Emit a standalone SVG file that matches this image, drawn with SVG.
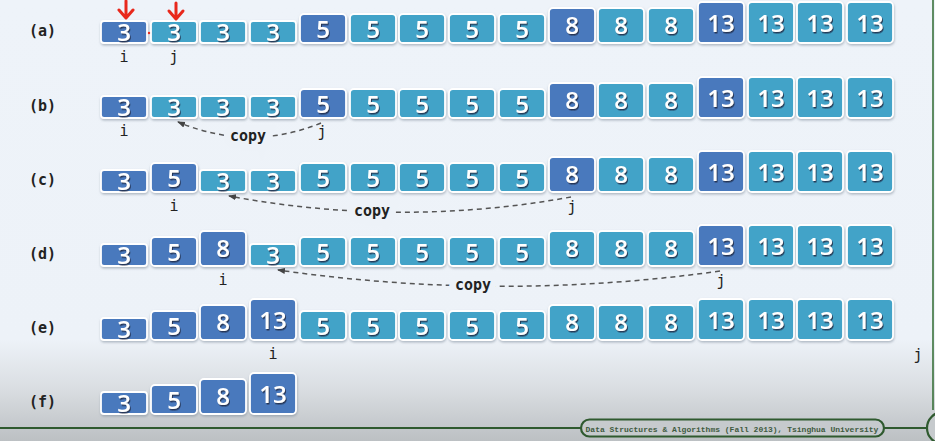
<svg xmlns="http://www.w3.org/2000/svg" width="935" height="441" viewBox="0 0 935 441">
<defs>
<linearGradient id="bg" x1="0" y1="0" x2="0" y2="1">
<stop offset="0" stop-color="#eef3f9"/>
<stop offset="0.77" stop-color="#edf2f8"/>
<stop offset="0.88" stop-color="#dadee2"/>
<stop offset="1" stop-color="#bcc0c3"/>
</linearGradient>
<filter id="sh" x="-10%" y="-10%" width="130%" height="140%">
<feDropShadow dx="0.5" dy="1.5" stdDeviation="1" flood-color="#7a8796" flood-opacity="0.55"/>
</filter>
<filter id="ts" x="-20%" y="-20%" width="150%" height="150%">
<feDropShadow dx="1" dy="1.5" stdDeviation="0.5" flood-color="#1b2b44" flood-opacity="0.85"/>
</filter>
<marker id="ah" markerWidth="9" markerHeight="7" refX="7" refY="3" orient="auto" markerUnits="userSpaceOnUse">
<path d="M0,0 L8,3 L0,6 z" fill="#444"/>
</marker>
</defs>
<style>
rect.d{fill:#4a79bd;stroke:#fff;stroke-width:1.8;filter:url(#sh)}
rect.l{fill:#42a3c8;stroke:#fff;stroke-width:1.8;filter:url(#sh)}
text.n{font-family:"Open Sans","DejaVu Sans",sans-serif;font-weight:600;font-size:24px;fill:#fff;text-anchor:middle;filter:url(#ts)}
text.lab{font-family:"DejaVu Sans Mono","Liberation Mono",monospace;font-weight:bold;font-size:15px;fill:#222}
text.idx{font-family:"DejaVu Sans Mono","Liberation Mono",monospace;font-size:15px;fill:#222;text-anchor:middle}
text.cp{font-family:"DejaVu Sans Mono","Liberation Mono",monospace;font-weight:bold;font-size:15px;fill:#222;text-anchor:middle;stroke:#edf2f8;stroke-width:14;paint-order:stroke}
path.cl{fill:none;stroke:#555;stroke-width:1.5;stroke-dasharray:5 4;marker-end:url(#ah)}
.red{fill:none;stroke:#e8281c;stroke-width:3;stroke-linecap:round;stroke-linejoin:round}
</style>
<rect x="0" y="0" width="935" height="441" fill="url(#bg)"/>

<g id="labels">
<text class="lab" x="29" y="36">(a)</text>
<text class="lab" x="29" y="111">(b)</text>
<text class="lab" x="29" y="185">(c)</text>
<text class="lab" x="29" y="259">(d)</text>
<text class="lab" x="29" y="333">(e)</text>
<text class="lab" x="29" y="407">(f)</text>
</g>

<!-- row a -->
<g id="row-a">
<g id="a0"><rect class="d" x="101" y="21" width="46" height="22" rx="3"/><text class="n" x="124" y="41">3</text></g>
<g id="a1"><rect class="l" x="151" y="21" width="46" height="22" rx="3"/><text class="n" x="174" y="41">3</text></g>
<g id="a2"><rect class="l" x="200" y="21" width="46" height="22" rx="3"/><text class="n" x="223" y="41">3</text></g>
<g id="a3"><rect class="l" x="250" y="21" width="46" height="22" rx="3"/><text class="n" x="273" y="41">3</text></g>
<g id="a4"><rect class="d" x="300" y="14" width="46" height="29" rx="4"/><text class="n" x="323" y="38">5</text></g>
<g id="a5"><rect class="l" x="350" y="14" width="46" height="29" rx="4"/><text class="n" x="373" y="38">5</text></g>
<g id="a6"><rect class="l" x="399" y="14" width="46" height="29" rx="4"/><text class="n" x="422" y="38">5</text></g>
<g id="a7"><rect class="l" x="449" y="14" width="46" height="29" rx="4"/><text class="n" x="472" y="38">5</text></g>
<g id="a8"><rect class="l" x="499" y="14" width="46" height="29" rx="4"/><text class="n" x="522" y="38">5</text></g>
<g id="a9"><rect class="d" x="549" y="8" width="46" height="35" rx="4"/><text class="n" x="572" y="34">8</text></g>
<g id="a10"><rect class="l" x="598" y="8" width="46" height="35" rx="4"/><text class="n" x="621" y="34">8</text></g>
<g id="a11"><rect class="l" x="648" y="8" width="46" height="35" rx="4"/><text class="n" x="671" y="34">8</text></g>
<g id="a12"><rect class="d" x="698" y="2" width="46" height="41" rx="4"/><text class="n" x="721" y="32">13</text></g>
<g id="a13"><rect class="l" x="748" y="2" width="46" height="41" rx="4"/><text class="n" x="771" y="32">13</text></g>
<g id="a14"><rect class="l" x="797" y="2" width="46" height="41" rx="4"/><text class="n" x="820" y="32">13</text></g>
<g id="a15"><rect class="l" x="847" y="2" width="46" height="41" rx="4"/><text class="n" x="870" y="32">13</text></g>
<text class="idx" x="124" y="62">i</text>
<text class="idx" x="174" y="62">j</text>
</g>

<!-- row b -->
<g id="row-b">
<g id="b0"><rect class="d" x="101" y="96" width="46" height="22" rx="3"/><text class="n" x="124" y="116">3</text></g>
<g id="b1"><rect class="l" x="151" y="96" width="46" height="22" rx="3"/><text class="n" x="174" y="116">3</text></g>
<g id="b2"><rect class="l" x="200" y="96" width="46" height="22" rx="3"/><text class="n" x="223" y="116">3</text></g>
<g id="b3"><rect class="l" x="250" y="96" width="46" height="22" rx="3"/><text class="n" x="273" y="116">3</text></g>
<g id="b4"><rect class="d" x="300" y="89" width="46" height="29" rx="4"/><text class="n" x="323" y="113">5</text></g>
<g id="b5"><rect class="l" x="350" y="89" width="46" height="29" rx="4"/><text class="n" x="373" y="113">5</text></g>
<g id="b6"><rect class="l" x="399" y="89" width="46" height="29" rx="4"/><text class="n" x="422" y="113">5</text></g>
<g id="b7"><rect class="l" x="449" y="89" width="46" height="29" rx="4"/><text class="n" x="472" y="113">5</text></g>
<g id="b8"><rect class="l" x="499" y="89" width="46" height="29" rx="4"/><text class="n" x="522" y="113">5</text></g>
<g id="b9"><rect class="d" x="549" y="83" width="46" height="35" rx="4"/><text class="n" x="572" y="109">8</text></g>
<g id="b10"><rect class="l" x="598" y="83" width="46" height="35" rx="4"/><text class="n" x="621" y="109">8</text></g>
<g id="b11"><rect class="l" x="648" y="83" width="46" height="35" rx="4"/><text class="n" x="671" y="109">8</text></g>
<g id="b12"><rect class="d" x="698" y="77" width="46" height="41" rx="4"/><text class="n" x="721" y="107">13</text></g>
<g id="b13"><rect class="l" x="748" y="77" width="46" height="41" rx="4"/><text class="n" x="771" y="107">13</text></g>
<g id="b14"><rect class="l" x="797" y="77" width="46" height="41" rx="4"/><text class="n" x="820" y="107">13</text></g>
<g id="b15"><rect class="l" x="847" y="77" width="46" height="41" rx="4"/><text class="n" x="870" y="107">13</text></g>
<text class="idx" x="124" y="136">i</text>
<text class="idx" x="322" y="137">j</text>
</g>

<!-- row c -->
<g id="row-c">
<g id="c0"><rect class="d" x="101" y="170" width="46" height="22" rx="3"/><text class="n" x="124" y="190">3</text></g>
<g id="c1"><rect class="d" x="151" y="163" width="46" height="29" rx="4"/><text class="n" x="174" y="187">5</text></g>
<g id="c2"><rect class="l" x="200" y="170" width="46" height="22" rx="3"/><text class="n" x="223" y="190">3</text></g>
<g id="c3"><rect class="l" x="250" y="170" width="46" height="22" rx="3"/><text class="n" x="273" y="190">3</text></g>
<g id="c4"><rect class="l" x="300" y="163" width="46" height="29" rx="4"/><text class="n" x="323" y="187">5</text></g>
<g id="c5"><rect class="l" x="350" y="163" width="46" height="29" rx="4"/><text class="n" x="373" y="187">5</text></g>
<g id="c6"><rect class="l" x="399" y="163" width="46" height="29" rx="4"/><text class="n" x="422" y="187">5</text></g>
<g id="c7"><rect class="l" x="449" y="163" width="46" height="29" rx="4"/><text class="n" x="472" y="187">5</text></g>
<g id="c8"><rect class="l" x="499" y="163" width="46" height="29" rx="4"/><text class="n" x="522" y="187">5</text></g>
<g id="c9"><rect class="d" x="549" y="157" width="46" height="35" rx="4"/><text class="n" x="572" y="183">8</text></g>
<g id="c10"><rect class="l" x="598" y="157" width="46" height="35" rx="4"/><text class="n" x="621" y="183">8</text></g>
<g id="c11"><rect class="l" x="648" y="157" width="46" height="35" rx="4"/><text class="n" x="671" y="183">8</text></g>
<g id="c12"><rect class="d" x="698" y="151" width="46" height="41" rx="4"/><text class="n" x="721" y="181">13</text></g>
<g id="c13"><rect class="l" x="748" y="151" width="46" height="41" rx="4"/><text class="n" x="771" y="181">13</text></g>
<g id="c14"><rect class="l" x="797" y="151" width="46" height="41" rx="4"/><text class="n" x="820" y="181">13</text></g>
<g id="c15"><rect class="l" x="847" y="151" width="46" height="41" rx="4"/><text class="n" x="870" y="181">13</text></g>
<text class="idx" x="174" y="211">i</text>
<text class="idx" x="572" y="212">j</text>
</g>

<!-- row d -->
<g id="row-d">
<g id="d0"><rect class="d" x="101" y="244" width="46" height="22" rx="3"/><text class="n" x="124" y="264">3</text></g>
<g id="d1"><rect class="d" x="151" y="237" width="46" height="29" rx="4"/><text class="n" x="174" y="261">5</text></g>
<g id="d2"><rect class="d" x="200" y="231" width="46" height="35" rx="4"/><text class="n" x="223" y="257">8</text></g>
<g id="d3"><rect class="l" x="250" y="244" width="46" height="22" rx="3"/><text class="n" x="273" y="264">3</text></g>
<g id="d4"><rect class="l" x="300" y="237" width="46" height="29" rx="4"/><text class="n" x="323" y="261">5</text></g>
<g id="d5"><rect class="l" x="350" y="237" width="46" height="29" rx="4"/><text class="n" x="373" y="261">5</text></g>
<g id="d6"><rect class="l" x="399" y="237" width="46" height="29" rx="4"/><text class="n" x="422" y="261">5</text></g>
<g id="d7"><rect class="l" x="449" y="237" width="46" height="29" rx="4"/><text class="n" x="472" y="261">5</text></g>
<g id="d8"><rect class="l" x="499" y="237" width="46" height="29" rx="4"/><text class="n" x="522" y="261">5</text></g>
<g id="d9"><rect class="l" x="549" y="231" width="46" height="35" rx="4"/><text class="n" x="572" y="257">8</text></g>
<g id="d10"><rect class="l" x="598" y="231" width="46" height="35" rx="4"/><text class="n" x="621" y="257">8</text></g>
<g id="d11"><rect class="l" x="648" y="231" width="46" height="35" rx="4"/><text class="n" x="671" y="257">8</text></g>
<g id="d12"><rect class="d" x="698" y="225" width="46" height="41" rx="4"/><text class="n" x="721" y="255">13</text></g>
<g id="d13"><rect class="l" x="748" y="225" width="46" height="41" rx="4"/><text class="n" x="771" y="255">13</text></g>
<g id="d14"><rect class="l" x="797" y="225" width="46" height="41" rx="4"/><text class="n" x="820" y="255">13</text></g>
<g id="d15"><rect class="l" x="847" y="225" width="46" height="41" rx="4"/><text class="n" x="870" y="255">13</text></g>
<text class="idx" x="223" y="285">i</text>
<text class="idx" x="721" y="286">j</text>
</g>

<!-- row e -->
<g id="row-e">
<g id="e0"><rect class="d" x="101" y="318" width="46" height="22" rx="3"/><text class="n" x="124" y="338">3</text></g>
<g id="e1"><rect class="d" x="151" y="311" width="46" height="29" rx="4"/><text class="n" x="174" y="335">5</text></g>
<g id="e2"><rect class="d" x="200" y="305" width="46" height="35" rx="4"/><text class="n" x="223" y="331">8</text></g>
<g id="e3"><rect class="d" x="250" y="299" width="46" height="41" rx="4"/><text class="n" x="273" y="329">13</text></g>
<g id="e4"><rect class="l" x="300" y="311" width="46" height="29" rx="4"/><text class="n" x="323" y="335">5</text></g>
<g id="e5"><rect class="l" x="350" y="311" width="46" height="29" rx="4"/><text class="n" x="373" y="335">5</text></g>
<g id="e6"><rect class="l" x="399" y="311" width="46" height="29" rx="4"/><text class="n" x="422" y="335">5</text></g>
<g id="e7"><rect class="l" x="449" y="311" width="46" height="29" rx="4"/><text class="n" x="472" y="335">5</text></g>
<g id="e8"><rect class="l" x="499" y="311" width="46" height="29" rx="4"/><text class="n" x="522" y="335">5</text></g>
<g id="e9"><rect class="l" x="549" y="305" width="46" height="35" rx="4"/><text class="n" x="572" y="331">8</text></g>
<g id="e10"><rect class="l" x="598" y="305" width="46" height="35" rx="4"/><text class="n" x="621" y="331">8</text></g>
<g id="e11"><rect class="l" x="648" y="305" width="46" height="35" rx="4"/><text class="n" x="671" y="331">8</text></g>
<g id="e12"><rect class="l" x="698" y="299" width="46" height="41" rx="4"/><text class="n" x="721" y="329">13</text></g>
<g id="e13"><rect class="l" x="748" y="299" width="46" height="41" rx="4"/><text class="n" x="771" y="329">13</text></g>
<g id="e14"><rect class="l" x="797" y="299" width="46" height="41" rx="4"/><text class="n" x="820" y="329">13</text></g>
<g id="e15"><rect class="l" x="847" y="299" width="46" height="41" rx="4"/><text class="n" x="870" y="329">13</text></g>
<text class="idx" x="273" y="359">i</text>
<text class="idx" x="918" y="360">j</text>
</g>

<!-- row f -->
<g id="row-f">
<g id="f0"><rect class="d" x="101" y="392" width="46" height="22" rx="3"/><text class="n" x="124" y="412">3</text></g>
<g id="f1"><rect class="d" x="151" y="385" width="46" height="29" rx="4"/><text class="n" x="174" y="409">5</text></g>
<g id="f2"><rect class="d" x="200" y="379" width="46" height="35" rx="4"/><text class="n" x="223" y="405">8</text></g>
<g id="f3"><rect class="d" x="250" y="373" width="46" height="41" rx="4"/><text class="n" x="273" y="403">13</text></g>
</g>

<g id="pointers">
<path class="red" d="M126,1 V17 M119,10 L126,18 L133,10"/>
<path class="red" d="M176,3 V18 M169,11 L176,19 L183,11"/>
<circle cx="149" cy="33" r="1.2" fill="#e8281c"/>
</g>

<g id="connectors">
<path class="cl" d="M321,123 Q250,152 178,122"/>
<path class="cl" d="M571,197 Q400,228 229,196"/>
<path class="cl" d="M720,271 Q500,302 278,270"/>
</g>
<g id="copy-labels">
<text class="cp" x="248" y="141">copy</text>
<text class="cp" x="372" y="216">copy</text>
<text class="cp" x="473" y="290">copy</text>
</g>

<g id="footer">
<line x1="0" y1="428" x2="581" y2="428" stroke="#2f5a2f" stroke-width="2.2"/>
<line x1="884" y1="428" x2="926" y2="428" stroke="#2f5a2f" stroke-width="2.2"/>
<line x1="933" y1="0" x2="933" y2="410" stroke="#2f6a2f" stroke-width="1.5"/>
<rect x="581" y="419.5" width="303" height="17" rx="8.5" fill="#c6cacd" stroke="#2f5a2f" stroke-width="2.2"/>
<text x="732" y="431.5" text-anchor="middle" font-family="Liberation Mono, DejaVu Sans Mono, monospace" font-size="8" font-weight="bold" fill="#3f5a3f">Data Structures &amp; Algorithms (Fall 2013), Tsinghua University</text>
<circle cx="943" cy="428" r="16" fill="#c6cacd" stroke="#2f5a2f" stroke-width="2.2"/>
</g>
</svg>
